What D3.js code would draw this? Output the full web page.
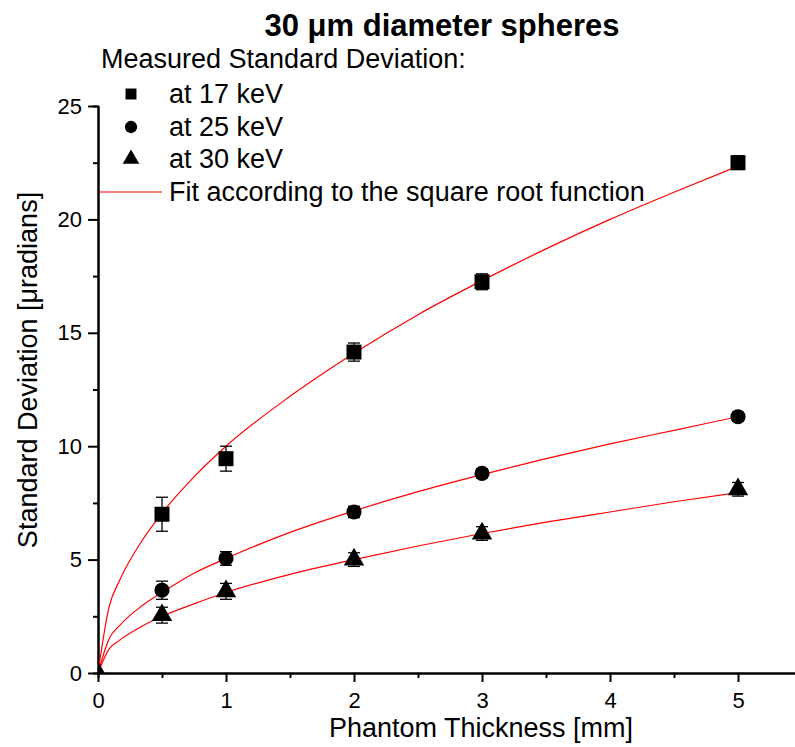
<!DOCTYPE html>
<html>
<head>
<meta charset="utf-8">
<script src="https://cdn.jsdelivr.net/npm/d3@7"></script>
<style>
  body { margin: 0; background: #fff; }
  svg { font-family: "Liberation Sans", Arial, sans-serif; }
  .axis path, .axis line { stroke: #000; stroke-width: 2; }
  .axis text { font-size: 22px; fill: #000; }
  .fit { fill: none; stroke: #ff0000; stroke-width: 1.2; }
  .err { stroke: #000; stroke-width: 1.3; fill: none; }
</style>
</head>
<body>
<div id="chart"></div>
<script>
// measured points
var thickness = [0.5, 1, 2, 3, 5];
var sd17 = [7.0, 9.45, 14.15, 17.25, 22.5];
var err17 = [0.75, 0.55, 0.4, 0.35, 0.3];
var sd25 = [3.65, 5.05, 7.1, 8.8, 11.3];
var err25 = [0.4, 0.3, 0.25, 0.2, 0.2];
var thickness30 = [0, 0.5, 1, 2, 3, 5];
var sd30 = [0, 2.55, 3.6, 5.0, 6.15, 8.1];
var err30 = [0, 0.35, 0.35, 0.3, 0.3, 0.3];

// fitted curves
var fitX = [0, 0.086, 0.17, 0.34, 0.5, 0.75, 1, 1.5, 2, 2.5, 3, 3.5, 4, 4.5, 5];
var fit17 = [0, 2.9, 4.1, 5.8, 7.05, 8.65, 10.0, 12.2, 14.1, 15.8, 17.3, 18.7, 20.0, 21.2, 22.35];
var fit25 = [0, 1.5, 2.1, 2.95, 3.55, 4.4, 5.05, 6.2, 7.15, 8.0, 8.75, 9.45, 10.1, 10.7, 11.3];
var fit30 = [0, 1.05, 1.45, 2.05, 2.5, 3.05, 3.55, 4.35, 5.0, 5.6, 6.15, 6.65, 7.1, 7.55, 7.95];

var xTicks = [0, 1, 2, 3, 4, 5];
var yTicks = [0, 5, 10, 15, 20, 25];
var legendLabels = ["at 17 keV", "at 25 keV", "at 30 keV", "Fit according to the square root function"];

var width = 795, height = 747;
var margin = {top: 106, left: 98, bottom: 74};

var x = d3.scaleLinear().domain([0, 5.5]).range([margin.left, margin.left + 704]);
var y = d3.scaleLinear().domain([0, 25]).range([height - margin.bottom, margin.top]);

var svg = d3.select("#chart").append("svg")
    .attr("width", width)
    .attr("height", height);

svg.append("clipPath").attr("id", "plot")
  .append("rect")
    .attr("x", x(0)).attr("y", 0)
    .attr("width", width).attr("height", y(0));

// minor ticks
svg.append("g")
    .attr("class", "axis")
    .attr("transform", "translate(0," + y(0) + ")")
    .call(d3.axisBottom(x).tickValues(d3.range(0.5, 5.5, 1)).tickSize(5).tickFormat(""));
svg.append("g")
    .attr("class", "axis")
    .attr("transform", "translate(" + x(0) + ",0)")
    .call(d3.axisLeft(y).tickValues(d3.range(2.5, 25, 5)).tickSize(5).tickFormat(""));

// major ticks
var xAxis = svg.append("g")
    .attr("class", "axis")
    .attr("transform", "translate(0," + y(0) + ")")
    .call(d3.axisBottom(x).tickValues(xTicks).tickFormat(d3.format("d"))
      .tickSize(9).tickSizeOuter(0).tickPadding(6));
var yAxis = svg.append("g")
    .attr("class", "axis")
    .attr("transform", "translate(" + x(0) + ",0)")
    .call(d3.axisLeft(y).tickValues(yTicks).tickFormat(d3.format("d"))
      .tickSize(10).tickSizeOuter(0).tickPadding(6));
xAxis.selectAll("text").attr("dy", "0.9em");

// axis titles
svg.append("text")
    .attr("x", 481).attr("y", 737)
    .attr("text-anchor", "middle")
    .style("font-size", "27px")
    .text("Phantom Thickness [mm]");
svg.append("text")
    .attr("transform", "translate(37," + 370 + ") rotate(-90)")
    .attr("text-anchor", "middle")
    .style("font-size", "27px")
    .text("Standard Deviation [\u03bcradians]");

svg.append("text")
    .attr("x", 442).attr("y", 36)
    .attr("text-anchor", "middle")
    .style("font-size", "31px")
    .style("font-weight", "bold")
    .text("30 \u03bcm diameter spheres");

// fit lines
var plot = svg.append("g").attr("clip-path", "url(#plot)");
var line = d3.line()
    .curve(d3.curveMonotoneX)
    .x(function(d) { return x(d[0]); })
    .y(function(d) { return y(d[1]); });

[fit17, fit25, fit30].forEach(function(f) {
  plot.append("path")
      .datum(fitX.map(function(v, i) { return [v, f[i]]; }))
      .attr("class", "fit")
      .attr("d", line);
});

// error bars + markers
var series = [
  {xs: thickness, ys: sd17, es: err17, sym: d3.symbolSquare, size: 225},
  {xs: thickness, ys: sd25, es: err25, sym: d3.symbolCircle, size: 180},
  {xs: thickness30, ys: sd30, es: err30, sym: d3.symbolTriangle, size: 180}
];

series.forEach(function(s) {
  var pts = s.xs.map(function(v, i) { return {x: v, y: s.ys[i], e: s.es[i]}; });
  var g = plot.append("g");
  var eb = g.selectAll(".eb").data(pts.filter(function(d) { return d.e > 0; }))
    .enter().append("g").attr("class", "err");
  eb.append("line")
      .attr("x1", function(d) { return x(d.x); })
      .attr("x2", function(d) { return x(d.x); })
      .attr("y1", function(d) { return y(d.y - d.e); })
      .attr("y2", function(d) { return y(d.y + d.e); });
  eb.append("line")
      .attr("x1", function(d) { return x(d.x) - 6; })
      .attr("x2", function(d) { return x(d.x) + 6; })
      .attr("y1", function(d) { return y(d.y + d.e); })
      .attr("y2", function(d) { return y(d.y + d.e); });
  eb.append("line")
      .attr("x1", function(d) { return x(d.x) - 6; })
      .attr("x2", function(d) { return x(d.x) + 6; })
      .attr("y1", function(d) { return y(d.y - d.e); })
      .attr("y2", function(d) { return y(d.y - d.e); });
  g.selectAll(".pt").data(pts).enter().append("path")
      .attr("transform", function(d) { return "translate(" + x(d.x) + "," + y(d.y) + ")"; })
      .attr("d", d3.symbol().type(s.sym).size(s.size))
      .attr("fill", "#000");
});

// legend
svg.append("text")
    .attr("x", 101).attr("y", 68)
    .style("font-size", "27px")
    .text("Measured Standard Deviation:");

var legendSyms = [d3.symbolSquare, d3.symbolCircle, d3.symbolTriangle];
var legendY = [94, 127, 159, 192];
legendLabels.forEach(function(lab, i) {
  if (i < 3) {
    svg.append("path")
        .attr("transform", "translate(131," + legendY[i] + ")")
        .attr("d", d3.symbol().type(legendSyms[i]).size(120))
        .attr("fill", "#000");
  } else {
    svg.append("line")
        .attr("x1", 99).attr("x2", 162)
        .attr("y1", legendY[i]).attr("y2", legendY[i])
        .attr("stroke", "#ff0000").attr("stroke-width", 1.2);
  }
  svg.append("text")
      .attr("x", 169).attr("y", legendY[i] + 9)
      .style("font-size", "27px")
      .text(lab);
});
</script>
</body>
</html>
